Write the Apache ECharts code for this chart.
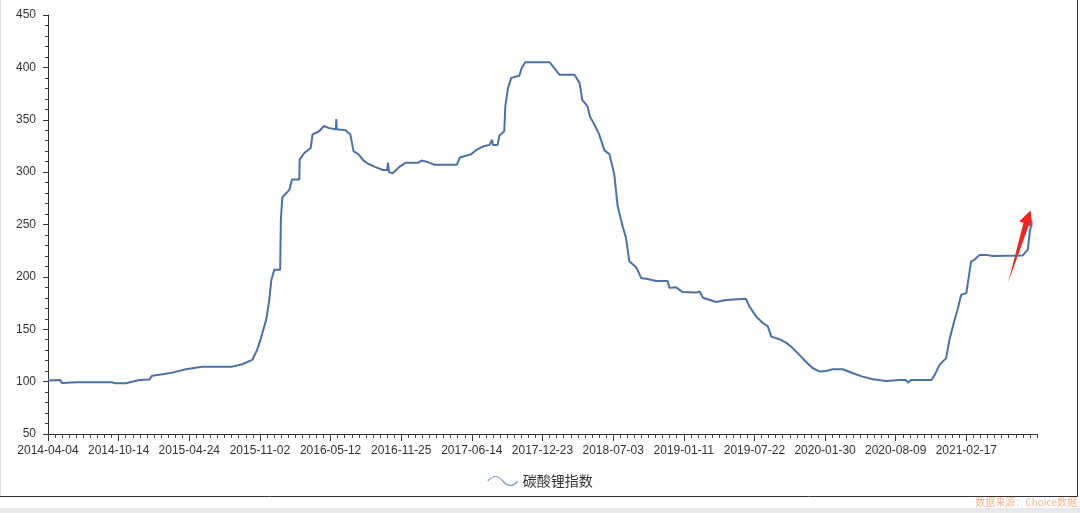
<!DOCTYPE html>
<html>
<head>
<meta charset="utf-8">
<script src="https://cdn.jsdelivr.net/npm/echarts@6/dist/echarts.min.js"></script>
<style>
html,body{margin:0;padding:0;background:#fff;}
#chart{width:1080px;height:513px;}
</style>
</head>
<body>
<div id="chart"></div>
<script>
// ---- data ----
const tickLabels = ['2014-04-04','2014-10-14','2015-04-24','2015-11-02','2016-05-12','2016-11-25',
  '2017-06-14','2017-12-23','2018-07-03','2019-01-11','2019-07-22','2020-01-30','2020-08-09','2021-02-17'];
const axisEndDate = '2021-08-29';
const seriesName = '碳酸锂指数';
const sourceText = '数据来源：Choice数据';

const dates = [
'2014-04-04','2014-05-07','2014-05-12','2014-06-22','2014-09-25','2014-10-04','2014-11-03','2014-12-09',
'2015-01-05','2015-01-13','2015-02-10','2015-03-09','2015-04-15','2015-05-29','2015-08-19','2015-09-15',
'2015-10-12','2015-10-25','2015-11-05','2015-11-19','2015-11-27','2015-12-03','2015-12-11','2015-12-27',
'2015-12-29','2016-01-02','2016-01-21','2016-01-28','2016-02-17','2016-02-18','2016-03-01','2016-03-19',
'2016-03-24','2016-04-11','2016-04-24','2016-05-08','2016-05-27','2016-05-28','2016-05-29','2016-06-23',
'2016-07-06','2016-07-15','2016-07-29','2016-08-12','2016-08-25','2016-09-13','2016-10-05','2016-10-17',
'2016-10-19','2016-10-22','2016-11-01','2016-11-20','2016-12-08','2017-01-13','2017-01-22','2017-02-05',
'2017-02-28','2017-05-02','2017-05-11','2017-06-12','2017-06-25','2017-07-18','2017-08-01','2017-08-08',
'2017-08-10','2017-08-23','2017-08-28','2017-09-10','2017-09-13','2017-09-20','2017-09-29','2017-10-21',
'2017-10-27','2017-11-06','2018-01-11','2018-02-07','2018-03-20','2018-04-03','2018-04-10','2018-04-24',
'2018-05-01','2018-05-15','2018-05-26','2018-06-09','2018-06-23','2018-07-06','2018-07-15','2018-07-29',
'2018-08-07','2018-08-16','2018-09-04','2018-09-17','2018-10-05','2018-10-28','2018-11-28','2018-12-03',
'2018-12-21','2019-01-08','2019-02-14','2019-02-23','2019-03-04','2019-04-09','2019-05-06','2019-06-29',
'2019-07-08','2019-07-27','2019-08-14','2019-08-27','2019-09-06','2019-09-28','2019-10-17','2019-11-03',
'2019-11-21','2019-12-09','2019-12-27','2020-01-15','2020-02-02','2020-02-20','2020-03-18','2020-04-15',
'2020-05-11','2020-06-08','2020-07-14','2020-08-19','2020-09-06','2020-09-11','2020-09-20','2020-11-14',
'2020-11-23','2020-12-06','2020-12-24','2021-01-02','2021-01-16','2021-01-25','2021-02-03','2021-02-17',
'2021-02-21','2021-03-02','2021-03-11','2021-03-25','2021-04-12','2021-04-30','2021-07-21','2021-08-04',
'2021-08-09','2021-08-15'
];
const values = [
101,101.5,98.8,99.5,99.5,98.5,98.5,101.6,
102,105.7,107,108.6,111.8,114.3,114.3,116.6,
120.7,130,141.8,159,176.5,197,206.8,206.8,
256,276,283,293,293,312,318,323,
336,339,344,342,341,350.6,341,340,
336,320,317,311,308,305,302,302,
309,300,299,305,309,309,311,310,
307,307,314,317,321,325,326,331,
326,326,335,339,363,380,390,392,
399,405,405,393,393,385,369,363,
353,344,336,321,317,298,268,248,
237,215,209,199,198,196,196,189.5,
190,185.5,185,186,180,176,178,179,
172,162,156,153,143,140.5,137,132,
125.5,119,113,109.6,110.2,111.8,111.8,108,
104.8,102.3,100.7,101.6,101.6,99,101.6,101.6,
106.4,116,122.4,140,159,170,183,184.5,
194,214.7,216.3,221,221,220,220.5,226,
242,253
];
const yMin = 50, yMax = 450, yStep = 50;
const minorPerLabel = 10;

// ---- helpers: map a date to its position on the label-indexed axis ----
function dayNum(s){const p=s.split('-').map(Number);return Date.UTC(p[0],p[1]-1,p[2])/86400000;}
const anchors = tickLabels.concat([axisEndDate]).map(dayNum);
function pos(s){
  const d = dayNum(s);
  for (let i=0;i<anchors.length-1;i++){
    if (d <= anchors[i+1] || i === anchors.length-2){
      return i + (d-anchors[i])/(anchors[i+1]-anchors[i]);
    }
  }
  return 0;
}
const seriesData = dates.map((d,i)=>[pos(d), values[i]]);

const chart = echarts.init(document.getElementById('chart'), null, {renderer:'canvas'});
const axisColor = '#333';
const font = 'Liberation Sans, Arial, sans-serif';
const gridBox = {left:48,right:43,top:15,bottom:79};

chart.setOption({
  animation:false,
  backgroundColor:'#fff',
  grid:[Object.assign({},gridBox), Object.assign({},gridBox)],
  xAxis:[{
    gridIndex:0,
    type:'value',
    min:0,
    max:tickLabels.length,
    interval:1,
    axisLine:{lineStyle:{color:axisColor,width:1}},
    axisTick:{show:true,length:7,lineStyle:{color:axisColor}},
    splitLine:{show:false},
    axisLabel:{
      color:'#333',fontSize:12,fontFamily:font,margin:11,
      showMaxLabel:false,
      formatter:function(v){return tickLabels[Math.round(v)] || '';}
    }
  },{
    // minor ticks on a twin grid
    gridIndex:1,
    type:'value',
    position:'bottom',
    min:0,
    max:tickLabels.length*minorPerLabel,
    interval:1,
    axisLine:{show:false},
    axisTick:{show:true,length:4,lineStyle:{color:'#444'}},
    axisLabel:{show:false},
    splitLine:{show:false}
  }],
  yAxis:[{
    gridIndex:0,
    type:'value',
    min:yMin,max:yMax,interval:yStep,
    axisLine:{show:true,lineStyle:{color:axisColor,width:1}},
    axisTick:{show:true,length:5,lineStyle:{color:axisColor}},
    minorTick:{show:true,splitNumber:5,length:3,lineStyle:{color:'#444'}},
    splitLine:{show:false},
    axisLabel:{color:'#333',fontSize:12,fontFamily:font,margin:12}
  },{
    gridIndex:1,
    type:'value',
    show:false,
    min:yMin,max:yMax
  }],
  legend:{
    data:[seriesName],
    left:'center',
    top:469,
    itemWidth:30,
    itemHeight:12,
    itemGap:10,
    icon:'path://M0,6 C5,0 10,0 15,6 C20,12 25,12 30,6',
    itemStyle:{color:'transparent',borderColor:'#7f9dcb',borderWidth:1.2},
    textStyle:{color:'#333',fontSize:14,fontFamily:'Noto Sans CJK SC, sans-serif'}
  },
  series:[{
    name:seriesName,
    type:'line',
    xAxisIndex:0,
    yAxisIndex:0,
    data:seriesData,
    showSymbol:false,
    symbol:'none',
    lineStyle:{color:'#4b72a8',width:2},
    itemStyle:{color:'#4b72a8'}
  }],
  graphic:[
    {type:'line',silent:true,shape:{x1:1077.5,y1:0,x2:1077.5,y2:496.5},style:{stroke:'#333',lineWidth:1}},
    {type:'line',silent:true,shape:{x1:0,y1:496.5,x2:1078,y2:496.5},style:{stroke:'#333',lineWidth:1}},
    {type:'line',silent:true,shape:{x1:0.5,y1:0,x2:0.5,y2:496},style:{stroke:'#e2e2e2',lineWidth:1}},
    {type:'rect',silent:true,shape:{x:0,y:508,width:1080,height:5},style:{fill:'#e9e9ec'}},
    {type:'text',silent:true,right:3,top:497,style:{text:sourceText,fill:'#f8b48e',fontSize:10,fontFamily:'Noto Sans CJK SC, sans-serif'}},
    {type:'polygon',silent:true,shape:{points:[[1008,283],[1028.6,225.5],[1032.6,226.8],[1030.5,210.5],[1019.2,221.4],[1023.5,222.8]]},style:{fill:'#ff1f1f'}}
  ]
});
</script>
</body>
</html>
